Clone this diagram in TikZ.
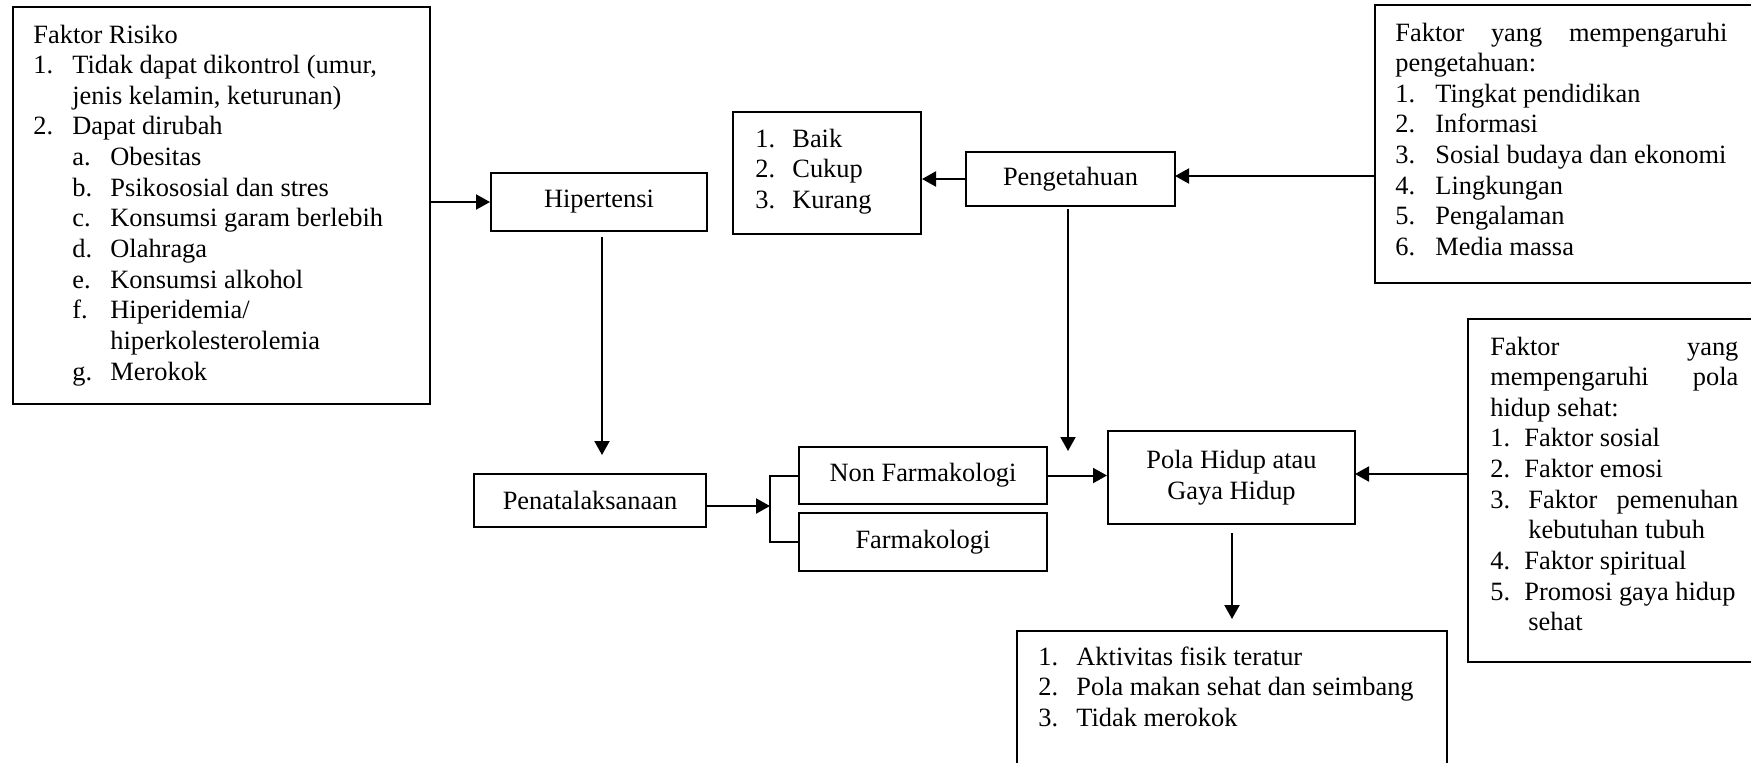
\documentclass[tikz,border=0pt]{standalone}
\usepackage{fontspec}
\setmainfont{Liberation Serif}
\usetikzlibrary{arrows.meta,calc}
\newlength{\upx}\setlength{\upx}{0.5pt}
\newcommand{\fs}{\fontsize{13.2pt}{15.325pt}\selectfont}
\newcommand{\Num}[2]{\makebox[#1\upx][l]{#2}}
\newcommand{\Ind}[1]{\hskip #1\upx\relax}
\tikzset{
  box/.style={draw, line width=1pt, rectangle, inner sep=0pt},
  txt/.style={inner sep=0pt, anchor=base west},
  arr/.style={line width=1pt, -{Triangle[length=7pt,width=7.5pt]}},
  link/.style={line width=1pt},
}
\begin{document}
\begin{tikzpicture}[x=0.5pt,y=-0.5pt,font=\fs]
\clip (0,0) rectangle (1751,762);

% boxes
\node[box, minimum width=417\upx, minimum height=397\upx] (risk) at (221.5,205.5) {};
\node[box, minimum width=216\upx, minimum height=58\upx] (hip) at (599,202) {Hipertensi};
\node[box, minimum width=188\upx, minimum height=122\upx] (baik) at (827,173) {};
\node[box, minimum width=209\upx, minimum height=54\upx] (peng) at (1070.5,179) {Pengetahuan};
\node[box, minimum width=385\upx, minimum height=278\upx] (fpeng) at (1567.5,144) {};
\node[box, minimum width=232\upx, minimum height=53\upx] (pena) at (590,500.5) {Penatalaksanaan};
\node[box, minimum width=248\upx, minimum height=57\upx] (nonf) at (923,475.5) {Non Farmakologi};
\node[box, minimum width=248\upx, minimum height=58\upx] (farm) at (923,542) {Farmakologi};
\node[box, minimum width=247\upx, minimum height=93\upx, align=center] (pola) at (1231.5,477.5) {Pola Hidup atau\\Gaya Hidup};
\node[box, minimum width=292\upx, minimum height=343\upx] (fpola) at (1614,490.5) {};
\node[box, minimum width=430\upx, minimum height=144\upx] (hasil) at (1232,703) {};

% texts
\node[txt] (riskt) at (33,43) {\vtop{%
  \hbox{Faktor Risiko}
  \hbox{\Num{39}{1.}Tidak dapat dikontrol (umur,}
  \hbox{\Ind{39}jenis kelamin, keturunan)}
  \hbox{\Num{39}{2.}Dapat dirubah}
  \hbox{\Ind{39}\Num{38}{a.}Obesitas}
  \hbox{\Ind{39}\Num{38}{b.}Psikososial dan stres}
  \hbox{\Ind{39}\Num{38}{c.}Konsumsi garam berlebih}
  \hbox{\Ind{39}\Num{38}{d.}Olahraga}
  \hbox{\Ind{39}\Num{38}{e.}Konsumsi alkohol}
  \hbox{\Ind{39}\Num{38}{f.}Hiperidemia/}
  \hbox{\Ind{77}hiperkolesterolemia}
  \hbox{\Ind{39}\Num{38}{g.}Merokok}}};

\node[txt] (baikt) at (755,147) {\vtop{%
  \hbox{\Num{37}{1.}Baik}
  \hbox{\Num{37}{2.}Cukup}
  \hbox{\Num{37}{3.}Kurang}}};

\node[txt] (fpengt) at (1395,41) {\vtop{%
  \hbox to 332\upx{Faktor\hfill yang\hfill mempengaruhi}
  \hbox{pengetahuan:}
  \hbox{\Num{40}{1.}Tingkat pendidikan}
  \hbox{\Num{40}{2.}Informasi}
  \hbox{\Num{40}{3.}Sosial budaya dan ekonomi}
  \hbox{\Num{40}{4.}Lingkungan}
  \hbox{\Num{40}{5.}Pengalaman}
  \hbox{\Num{40}{6.}Media massa}}};

\node[txt] (fpolat) at (1490,355) {\vtop{%
  \hbox to 248\upx{Faktor\hfill yang}
  \hbox to 248\upx{mempengaruhi\hfill pola}
  \hbox{hidup sehat:}
  \hbox{\Num{34}{1.}Faktor sosial}
  \hbox{\Num{34}{2.}Faktor emosi}
  \hbox{\Num{38}{3.}\hbox to 210\upx{Faktor\hfill pemenuhan}}
  \hbox{\Ind{38}kebutuhan tubuh}
  \hbox{\Num{34}{4.}Faktor spiritual}
  \hbox{\Num{34}{5.}Promosi gaya hidup}
  \hbox{\Ind{38}sehat}}};

\node[txt] (hasilt) at (1038,665) {\vtop{%
  \hbox{\Num{38}{1.}Aktivitas fisik teratur}
  \hbox{\Num{38}{2.}Pola makan sehat dan seimbang}
  \hbox{\Num{38}{3.}Tidak merokok}}};

% free ends
\coordinate (hipOut) at (602,237);
\coordinate (penaIn) at (602,455);
\coordinate (pengOut) at (1068,209);
\coordinate (polaTop) at (1068,451);
\coordinate (pengE) at (1175,176);
\coordinate (brk) at (770,506);
\coordinate (polaE) at (1355,474);
\coordinate (polaOut) at (1232,533);
\coordinate (hasilIn) at (1232,619);

% connectors
\draw[arr] (hip.west -| risk.east) -- (hip.west);
\draw[arr] (hipOut) -- (penaIn);
\draw[arr] (peng.west) -- (peng.west -| baik.east);
\draw[arr] (fpeng.west |- pengE) -- (pengE);
\draw[arr] (pengOut) -- (polaTop);
\draw[arr] (pena.east |- brk) -- (brk);
\draw[link] (nonf.west) -- ++(-28,0) -- ($(farm.west)+(-28,0)$) -- (farm.west);
\draw[arr] (nonf.east) -- (nonf.east -| pola.west);
\draw[arr] (fpola.west |- polaE) -- (polaE);
\draw[arr] (polaOut) -- (hasilIn);
\end{tikzpicture}
\end{document}
